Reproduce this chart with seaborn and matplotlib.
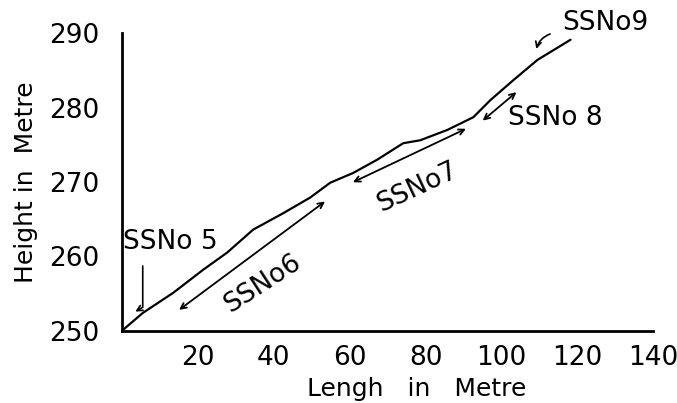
import matplotlib
matplotlib.use("Agg")
import matplotlib.pyplot as plt
import seaborn as sns

# profile of the slope
length_m = [0, 5.5, 13.5, 21.4, 27.7, 34.6, 42.5, 49.6, 54.9, 60.9, 67.3,
            74.1, 78.6, 85.8, 92.6, 97.1, 103.2, 109.5, 118.2]
height_m = [250, 252.4, 255.1, 258.2, 260.5, 263.6, 265.8, 267.9, 269.9,
            271.2, 273.0, 275.2, 275.6, 277.0, 278.7, 281.0, 283.7, 286.4, 289.1]

x_ticks = [20, 40, 60, 80, 100, 120, 140]
y_ticks = [250, 260, 270, 280, 290]

# stretches marked along the line (start, end)
ss6 = [(14.5, 252.6), (54.1, 267.6)]
ss7 = [(60.2, 269.8), (91.3, 277.3)]
ss8 = [(94.5, 278.0), (104.5, 282.3)]

sns.set_style("white")
plt.rcParams['font.family'] = ['DejaVu Sans']
plt.rcParams['text.color'] = 'black'
plt.rcParams['axes.labelcolor'] = 'black'
plt.rcParams['xtick.color'] = 'black'
plt.rcParams['ytick.color'] = 'black'

fig = plt.figure(figsize=(6.77, 4.03), dpi=100)
ax = fig.add_axes([0.180, 0.179, 0.785, 0.739])

sns.lineplot(x=length_m, y=height_m, color="black", lw=1.6, ax=ax)

ax.set_xlim(0, 140)
ax.set_ylim(250, 290)
ax.set_xticks(x_ticks)
ax.set_yticks(y_ticks)
ax.tick_params(length=0, labelsize=19, pad=10)
ax.tick_params(axis='y', pad=16)
sns.despine(ax=ax)
for s in ["left", "bottom"]:
    ax.spines[s].set_linewidth(2)
    ax.spines[s].set_color("black")

ax.set_xlabel("Lengh   in   Metre", fontsize=18, labelpad=4)
ax.xaxis.set_label_coords(0.554, -0.155)
ax.set_ylabel("Height in  Metre", fontsize=18, labelpad=8)

fs = 19
brk = dict(arrowstyle="<->", color="black", lw=1.3, mutation_scale=10)
for seg in (ss6, ss7, ss8):
    ax.annotate("", xy=seg[0], xytext=seg[1], arrowprops=brk)

ax.text(0.3, 261.9, "SSNo 5", fontsize=fs, ha="left", va="center")
ax.annotate("", xy=(2.9, 252.4), xytext=(5.5, 259.1),
            arrowprops=dict(arrowstyle="->", color="black", lw=1.2,
                            connectionstyle="angle,angleA=-90,angleB=-150,rad=0"))
ax.text(37.2, 256.4, "SSNo6", fontsize=fs, rotation=33, ha="center",
        va="center", rotation_mode="anchor")
ax.text(77.8, 269.3, "SSNo7", fontsize=fs, rotation=25, ha="center",
        va="center", rotation_mode="anchor")
ax.text(101.6, 278.6, "SSNo 8", fontsize=fs, ha="left", va="center")
ax.text(116.1, 291.3, "SSNo9", fontsize=fs, ha="left", va="center",
        clip_on=False)
ax.annotate("", xy=(109, 287.5), xytext=(113.5, 290.0),
            arrowprops=dict(arrowstyle="->", color="black", lw=1.2,
                            connectionstyle="arc3,rad=0.3"),
            annotation_clip=False)

fig.savefig("out.png", dpi=100)
